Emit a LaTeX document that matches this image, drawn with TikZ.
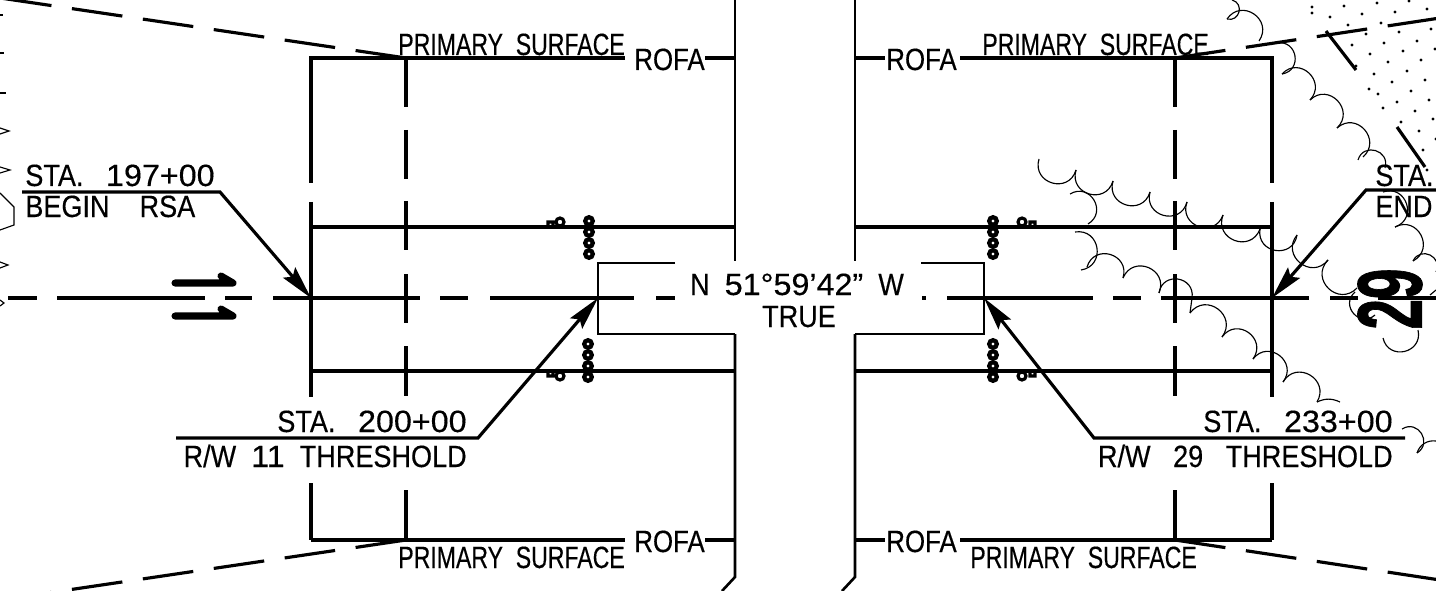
\documentclass[tikz,border=0pt]{standalone}
\usepackage{fontspec}
\setmainfont[FakeStretch=0.75,FakeBold=0.35]{Liberation Sans}
\newfontfamily\stafont[FakeStretch=0.88,FakeBold=0.35]{Liberation Sans}
\newfontfamily\rofafont[FakeStretch=0.84,FakeBold=0.35]{Liberation Sans}
\newfontfamily\digfont[FakeStretch=1.05,FakeBold=0.35]{Liberation Sans}
\newfontfamily\numfont[FakeBold=1.2]{Liberation Sans}
\newcommand{\dg}[1]{{\digfont #1}}
\usetikzlibrary{arrows.meta}
\tikzset{
    planline/.style={line width=1.8pt, line cap=butt},
    heavyline/.style={line width=2.7pt},
    endline/.style={line width=1.5pt},
    cloudline/.style={line width=0.65pt},
    scallop/.style={bend angle=90, looseness=1.7},
    surfline/.style={line width=1.8pt, dash pattern=on 29pt off 11.8pt},
    leader/.style={line width=1.8pt, -{Stealth[length=19pt,width=9pt,inset=3pt]}},
    lbl/.style={inner sep=0pt, font=\fontsize{17.5}{20}\selectfont},
    lampring/.style={line width=2.4pt},
    lampmark/.style={line width=1.8pt},
    stipple/.style={fill=black}
}
\begin{document}
\begin{tikzpicture}[x=0.02cm,y=-0.02cm]
    \clip (0,0) rectangle (1436,591);
    \fill[white] (0,0) rectangle (1436,591);

    % centre line
    \foreach \xa/\xb in {8/37,57/205,225/252,273/420,440/468,490/634,656/675,922/926,947/1093,1113/1141,1161/1309,1330/1358,1378/1436}
        \draw[planline] (\xa,298) -- (\xb,298);

    % rofa and primary surface outline, left half
    \coordinate (rofaTL) at (311,58);
    \coordinate (rofaBL) at (311,540);
    \draw[planline] (625,58) -- (rofaTL) -- (311,183);
    \draw[planline] (rofaBL) -- (625,540);
    \draw[planline] (311,202) -- (311,397);
    \draw[planline] (311,483) -- (rofaBL);
    \draw[heavyline] (311,227) -- (311,298);
    \draw[planline] (705,58) -- (735,58);
    \draw[planline] (705,540) -- (735,540);
    \foreach \ya/\yb in {58/107,130/179,201/250,274/323,346/396,490/540}
        \draw[planline] (406,\ya) -- (406,\yb);

    % same, right half
    \coordinate (rofaTR) at (1272,58);
    \coordinate (rofaBR) at (1272,540);
    \draw[planline] (960,58) -- (rofaTR) -- (1272,183);
    \draw[planline] (rofaBR) -- (960,540);
    \draw[planline] (1272,202) -- (1272,397);
    \draw[planline] (1272,483) -- (rofaBR);
    \draw[heavyline] (1272,227) -- (1272,298);
    \draw[planline] (855,58) -- (885,58);
    \draw[planline] (855,540) -- (885,540);
    \foreach \ya/\yb in {58/107,130/179,201/250,274/323,346/396,490/540}
        \draw[planline] (1175,\ya) -- (1175,\yb);

    % runway edges and ends
    \draw[planline] (311,227) -- (735,227);
    \draw[planline] (311,371) -- (735,371);
    \draw[planline] (855,227) -- (1272,227);
    \draw[planline] (855,371) -- (1272,371);
    \draw[endline] (735,0) -- (735,261);
    \draw[endline] (735,334) -- (735,577) -- (722,591);
    \draw[endline] (855,0) -- (855,261);
    \draw[endline] (855,334) -- (855,577) -- (842,591);
    \draw[endline] (675,263) -- (598,263) -- (598,334) -- (735,334);
    \draw[endline] (921,263) -- (984,263) -- (984,334) -- (855,334);

    % primary surface slopes
    \draw[surfline] (406,58) -- (-10,-3.5);
    \draw[surfline] (406,540) -- (-10,601.5);
    \draw[surfline] (1175,58) -- (1460,15);
    \draw[surfline] (1175,540) -- (1460,583);

    % lamps
    \foreach \lampx/\lampa in {589/221,993/221,588/344,993/344}
        \foreach \k in {0,11,22,33}
            \draw[lampring] (\lampx,\lampa+\k) circle (3.8);
    \draw[lampmark] (560,222) circle (4) (548,222) rectangle (553,227);
    \draw[lampmark] (560,376) circle (4) (548,371) rectangle (553,376);
    \draw[lampmark] (1022,222) circle (4) (1030,222) rectangle (1035,227);
    \draw[lampmark] (1022,376) circle (4) (1030,371) rectangle (1035,376);

    % runway direction arrows
    \draw[line width=4pt, line join=round, line cap=round] (175,283) -- (233,283) -- (221,276);
    \draw[line width=4pt, line join=round, line cap=round] (175,316) -- (233,316) -- (221,309);

    % scalloped clouds
    \foreach \xa/\ya/\xb/\yb in {1039/159/1076/170,1076/170/1113/181,1113/181/1150/192,1150/192/1187/202,1187/202/1223/215,1223/215/1260/229,1260/229/1297/235,1297/235/1328/260,1328/260/1357/288,1355/292/1375/315,1383/338/1418/330}
        \draw[cloudline] (\xa,\ya) to[scallop, bend right] (\xb,\yb);
    \foreach \xa/\ya/\xb/\yb in {1232/0/1227/19,1227/19/1259/41,1277/43/1282/74,1282/74/1310/100,1310/100/1337/128,1337/128/1363/157,1358/160/1385/168,1383/192/1395/227,1395/227/1413/261,1413/261/1436/272,1070/194/1088/224,1075/232/1081/270,1087/267/1123/278,1123/278/1159/293,1159/293/1192/298,1190/313/1222/337,1222/337/1253/359,1253/359/1283/382,1283/382/1317/402,1402/429/1417/453}
        \draw[cloudline] (\xa,\ya) to[scallop, bend left] (\xb,\yb);
    \draw[cloudline] (1192,298) -- (1190,313);
    \draw[cloudline] (1317,402) to[bend left=25] (1340,402);
    \draw[cloudline] (1417,453) to[bend left=40] (1436,441);
    \draw[cloudline] (1430,295) -- (1436,290);
    \draw[cloudline] (0,193) -- (14,207) -- (14,225) -- (0,230);
    \foreach \ty/\tx in {131/9,170/10,265/8,303/4}
        \draw[cloudline] (0,\ty-3) -- (\tx,\ty) -- (0,\ty+3);
    \foreach \ty/\tx in {15/3,53/4,93/6}
        \draw[line width=0.8pt] (0,\ty) -- (\tx,\ty);

    % stippled area
    \foreach \dx/\dy in {1312/7,1312/13,1344/6,1377/3,1409/1,1330/17,1362/14,1395/12,1427/9,1348/25,1381/23,1431/29,1399/32,1366/34,1352/45,1384/43,1417/41,1435/49,1370/54,1403/51,1356/66,1388/62,1421/60,1374/74,1407/71,1392/82,1425/80,1369/89,1378/94,1411/91,1429/100,1397/102,1383/108,1415/111,1433/119,1401/122,1419/131,1436/139,1423/150,1427/170}
        \fill[stipple] (\dx,\dy) circle (1.6);
    \draw[planline] (1326,31) -- (1329,35) -- (1356,70);
    \draw[planline] (1397,127) -- (1425,167);

    % labels
    \node[lbl, anchor=base west] (psTL) at (398,55) {PRIMARY\ \ SURFACE};
    \node[lbl, anchor=base west] (psBL) at (398,568) {PRIMARY\ \ SURFACE};
    \node[lbl, anchor=base west] (psTR) at (982,55) {PRIMARY\ \ SURFACE};
    \node[lbl, anchor=base west] (psBR) at (970,568) {PRIMARY\ \ SURFACE};
    \node[lbl, anchor=base west] (rofaA) at (634,70) {\rofafont ROFA};
    \node[lbl, anchor=base west] (rofaB) at (634,552) {\rofafont ROFA};
    \node[lbl, anchor=base west] (rofaC) at (886,70) {\rofafont ROFA};
    \node[lbl, anchor=base west] (rofaD) at (886,552) {\rofafont ROFA};
    \node[lbl, anchor=base west] (staA) at (25,186) {\stafont STA.\ \ \ \dg{197+00}};
    \node[lbl, anchor=base west] (rsaA) at (25,217) {\stafont BEGIN\ \ \ \ RSA};
    \node[lbl, anchor=base east] (staB) at (467,432) {\stafont STA.\ \ \ \dg{200+00}};
    \node[lbl, anchor=base east] (thrB) at (467,467) {\stafont R/W\ \ \dg{11}\ \ THRESHOLD};
    \node[lbl, anchor=base east] (staC) at (1393,432) {\stafont STA.\ \ \ \dg{233+00}};
    \node[lbl, anchor=base east] (thrC) at (1393,467) {\stafont R/W\ \ \ 29\ \ \ THRESHOLD};
    \node[lbl, anchor=base west] (staD) at (1375,186) {\stafont STA.};
    \node[lbl, anchor=base west] (rsaD) at (1375,217) {\stafont END};
    \node[lbl, anchor=base] (bearing) at (797,295) {\stafont N\ \ \dg{51°59’42”}\ \ W};
    \node[lbl, anchor=base] (truenote) at (799,327) {\stafont TRUE};
    \node[inner sep=0pt, rotate=90, font=\numfont\fontsize{52}{52}\selectfont\bfseries] (rwnum) at (1390,299) {\scalebox{0.6}[1]{29}};

    % leaders
    \coordinate (threshL) at (598,298);
    \coordinate (threshR) at (984,298);
    \coordinate (endL) at (311,298);
    \coordinate (endR) at (1272,298);
    \draw[leader] (22,192) -- (220,192) -- (endL);
    \draw[leader] (176,438) -- (478,438) -- (threshL);
    \draw[leader] (1405,438) -- (1094,438) -- (threshR);
    \draw[leader] (1436,190) -- (1366,190) -- (endR);
\end{tikzpicture}
\end{document}
